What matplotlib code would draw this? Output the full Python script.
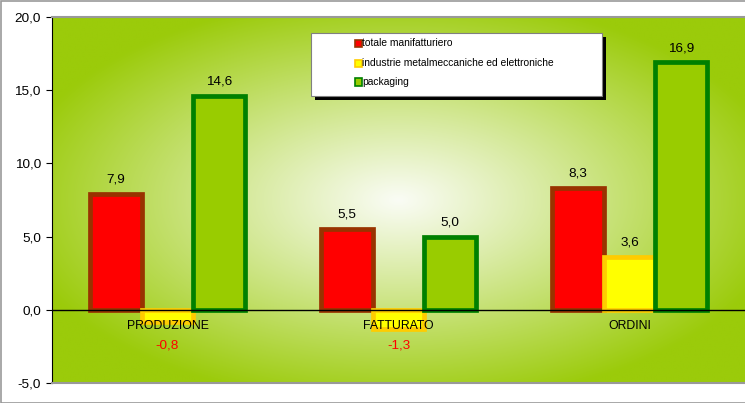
import numpy as np
import matplotlib
matplotlib.use("Agg")
import matplotlib.pyplot as plt
from matplotlib.patches import Rectangle

plt.rcParams["font.family"] = ["Liberation Sans", "DejaVu Sans"]

categories = ["PRODUZIONE", "FATTURATO", "ORDINI"]
series_names = ["totale manifatturiero", "industrie metalmeccaniche ed elettroniche", "packaging"]
totale = [7.9, 5.5, 8.3]
metalmecc = [-0.8, -1.3, 3.6]
packaging = [14.6, 5.0, 16.9]
yticks = [-5.0, 0.0, 5.0, 10.0, 15.0, 20.0]

fills = ["#FF0000", "#FFFF00", "#99CC00"]
edges = ["#993300", "#FFCC00", "#008000"]

W, H = 745, 403
fig = plt.figure(figsize=(W / 100, H / 100), dpi=100)
fig.patch.set_facecolor("white")

x0, x1, y0, y1 = 52, 745, 17, 383
ax = fig.add_axes([x0 / W, (H - y1) / H, (x1 - x0) / W, (y1 - y0) / H])

# background gradient (radial from center)
ny, nx = 300, 600
u = np.linspace(-1, 1, nx)
v = np.linspace(-1, 1, ny)
U, V = np.meshgrid(u, v)
r = np.sqrt(U ** 2 + V ** 2) / np.sqrt(2)
d = np.clip(r * 1.25, 0, 1) ** 1.05
c_in = np.array([250, 252, 245]) / 255
c_out = np.array([155, 203, 10]) / 255
img = c_in[None, None, :] * (1 - d[..., None]) + c_out[None, None, :] * d[..., None]
ax.imshow(img, extent=[0, 1, 0, 1], transform=ax.transAxes, aspect="auto", zorder=0, interpolation="bilinear")

n = len(categories)
xs = np.arange(n)
bw = 0.223
data = [totale, metalmecc, packaging]
for k, vals in enumerate(data):
    pos = xs + (k - 1) * bw
    ax.bar(pos, vals, width=bw, color=fills[k], edgecolor=edges[k], linewidth=3.4, zorder=2 + k)
    for xp, val in zip(pos, vals):
        s = f"{val:.1f}".replace(".", ",")
        if val >= 0:
            ax.annotate(s, (xp, val), xytext=(0, 6), textcoords="offset points", ha="center", va="bottom",
                        fontsize=9.7, color="black", zorder=10)
        else:
            ax.annotate(s, (xp, 0), xytext=(0, -25.5), textcoords="offset points", ha="center", va="center",
                        fontsize=9.7, color="#FF0000", zorder=10)

ax.axhline(0, color="black", linewidth=1.0, zorder=6)
for i, c in enumerate(categories):
    ax.annotate(c, (i, 0), xytext=(0, -12), textcoords="offset points", ha="center", va="center",
                fontsize=8.8, color="black", zorder=10)

ax.set_xlim(-0.5, n - 0.5)
ax.set_ylim(-5, 20)
ax.set_yticks(yticks)
ax.set_yticklabels([f"{t:.1f}".replace(".", ",") for t in yticks], fontsize=9.7)
ax.set_xticks([])
ax.tick_params(axis="y", direction="out", length=4, width=0.8, pad=4)
ax.spines["left"].set_color("black")
ax.spines["right"].set_visible(False)
for sp in ["top", "bottom"]:
    ax.spines[sp].set_color("#999999")
    ax.spines[sp].set_linewidth(1.5)

# legend (manual, in figure pixels)
lx0, ly0, lx1, ly1 = 311, 33, 602, 96
def fx(px):
    return px / W
def fy(py):
    return (H - py) / H
fig.patches.append(Rectangle((fx(lx0 + 4), fy(ly1 + 4)), fx(lx1 - lx0), (ly1 - ly0) / H,
                             transform=fig.transFigure, facecolor="black", edgecolor="none", zorder=20))
fig.patches.append(Rectangle((fx(lx0), fy(ly1)), fx(lx1 - lx0), (ly1 - ly0) / H,
                             transform=fig.transFigure, facecolor="white", edgecolor="#808080", linewidth=0.8, zorder=21))
entry_y = [43.5, 63.5, 82]
for k, name in enumerate(series_names):
    fig.patches.append(Rectangle((fx(355), fy(entry_y[k] + 3.5)), 7 / W, 7 / H, transform=fig.transFigure,
                                 facecolor=fills[k], edgecolor=edges[k], linewidth=1.2, zorder=22))
    fig.text(fx(362.5), fy(entry_y[k]), name, fontsize=7.4, va="center", ha="left", zorder=23)

# figure border
fig.patches.append(Rectangle((0.5 / W, 0.5 / H), (W + 10) / W, (H - 1.5) / H, transform=fig.transFigure,
                             facecolor="none", edgecolor="#999999", linewidth=1.2, zorder=30))

fig.savefig("out.png", dpi=100)
